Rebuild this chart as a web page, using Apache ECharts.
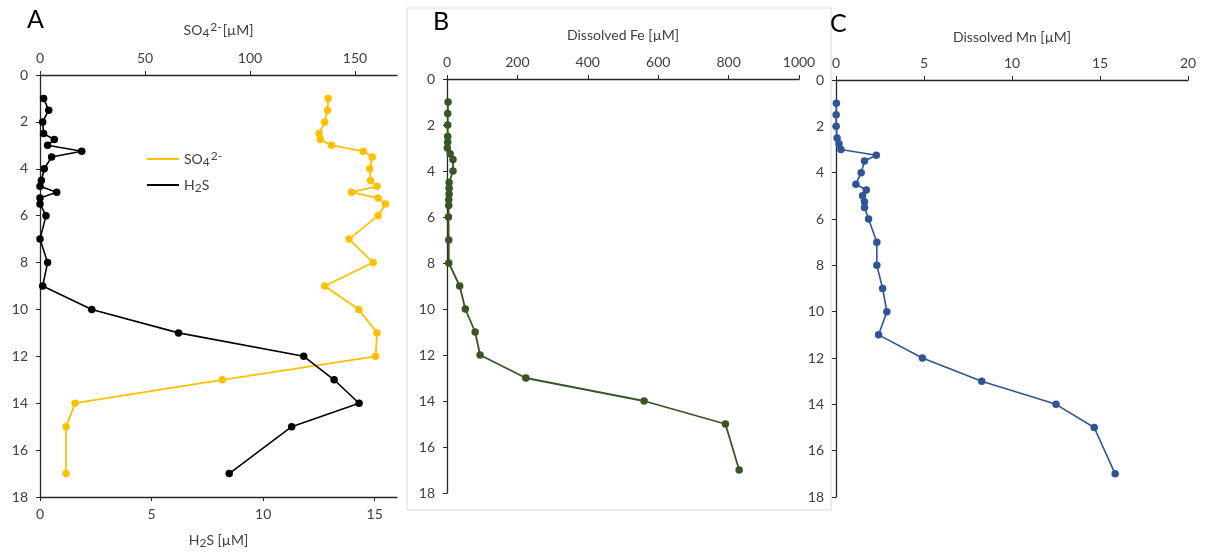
<!DOCTYPE html>
<html>
<head>
<meta charset="utf-8">
<script src="https://cdn.jsdelivr.net/npm/echarts@6/dist/echarts.min.js"></script>
<style>
html,body{margin:0;padding:0;background:#fff;}
#chart{width:1208px;height:557px;}
</style>
</head>
<body>
<div id="chart"></div>
<script>
const depths = [1,1.5,2,2.5,2.75,3,3.25,3.5,4,4.5,4.75,5,5.25,5.5,6,7,8,9,10,11,12,13,14,15,17];
const h2s = [0.16,0.39,0.12,0.16,0.64,0.34,1.87,0.52,0.19,0.06,0,0.75,0,0,0.27,0,0.34,0.12,2.32,6.21,11.82,13.18,14.3,11.28,8.48];
const so4 = [137.2,136.9,135.6,132.9,133.5,138.8,153.9,158.2,157.0,157.4,160.5,148.3,161.0,164.5,161.0,147.2,158.6,135.6,151.8,160.5,159.8,86.8,16.7,12.4,12.4];
const fe = [3,2,2,2,2,1,9,17,17,6,6,6,5,5,4,5,5,36,52,80,94,224,560,791,830];
const mn = [0.02,0.01,0.01,0.06,0.17,0.28,2.29,1.62,1.43,1.13,1.72,1.51,1.62,1.62,1.85,2.32,2.32,2.65,2.89,2.42,4.91,8.28,12.5,14.67,15.86];
const depthTicks = [0,2,4,6,8,10,12,14,16,18];
const so4Ticks = [0,50,100,150];
const h2sTicks = [0,5,10,15];
const feTicks = [0,200,400,600,800,1000];
const mnTicks = [0,5,10,15,20];

const FONT = 'Lato';
const TXT = '#404040';
const AX = '#262626';

function pairs(vals){ return vals.map((v,i)=>[v, depths[i]]); }

const rich = {
  n:{fontFamily:FONT,fontSize:14,color:TXT},
  sub:{fontFamily:FONT,fontSize:12,color:TXT,verticalAlign:'bottom',padding:[6,0,0,0]},
  sup:{fontFamily:FONT,fontSize:12,color:TXT,verticalAlign:'top',padding:[0,1,6,1]}
};

function xAx(grid, pos, min, max, ticks, name, gap){
  return {
    type:'value', gridIndex:grid, position:pos, min:min, max:max,
    name:name, nameLocation:'middle', nameGap:gap,
    nameTextStyle:{fontFamily:FONT,fontSize:14,color:TXT,rich:rich},
    axisLine:{show:true,onZero:false,lineStyle:{color:AX,width:1.3}},
    axisTick:{show:true,length:4,customValues:ticks,lineStyle:{color:AX}},
    axisLabel:{customValues:ticks,margin:10,fontFamily:FONT,fontSize:14,color:TXT,
      formatter:function(v){ return String(v); }},
    splitLine:{show:false}
  };
}
function yAx(grid){
  return {
    type:'value', gridIndex:grid, inverse:true, min:0, max:18, interval:2,
    axisLine:{show:true,onZero:false,lineStyle:{color:AX,width:1.3}},
    axisTick:{show:true,length:4,lineStyle:{color:AX}},
    axisLabel:{margin:12,fontFamily:FONT,fontSize:14,color:TXT},
    splitLine:{show:false}
  };
}
function ser(name, xi, yi, vals, color, w){
  return {
    name:name, type:'line', xAxisIndex:xi, yAxisIndex:yi, data:pairs(vals),
    symbol:'circle', symbolSize:7.5, showSymbol:true,
    lineStyle:{color:color,width:w}, itemStyle:{color:color},
    emphasis:{disabled:true}, animation:false
  };
}

const chart = echarts.init(document.getElementById('chart'), null, {renderer:'canvas'});
chart.setOption({
  animation:false,
  backgroundColor:'#fff',
  grid:[
    {left:40, top:75, width:357, height:422, containLabel:false, outerBoundsMode:'none'},
    {left:447, top:79, width:352, height:414, containLabel:false, outerBoundsMode:'none'},
    {left:836, top:80, width:352, height:417, containLabel:false, outerBoundsMode:'none'}
  ],
  xAxis:[
    xAx(0,'top',0,170,so4Ticks,'{n|SO}{sub|4}{sup|2-}{n|[µM]}',36),
    xAx(0,'bottom',0,16,h2sTicks,'{n|H}{sub|2}{n|S [µM]}',34),
    xAx(1,'top',0,1000,feTicks,'Dissolved Fe [µM]',37),
    xAx(2,'top',0,20,mnTicks,'Dissolved Mn [µM]',36)
  ],
  yAxis:[yAx(0),yAx(1),yAx(2)],
  legend:{
    left:142, top:145, orient:'vertical', itemGap:10, itemWidth:32, itemHeight:2,
    icon:'rect',
    data:[{name:'SO4'},{name:'H2S'}],
    formatter:function(n){ return n==='SO4' ? '{n|SO}{sub|4}{sup|2-}' : '{n|H}{sub|2}{n|S}'; },
    textStyle:{fontFamily:FONT,fontSize:14,color:TXT,rich:rich}
  },
  graphic:[
    {type:'rect', shape:{x:407,y:8,width:424,height:502}, style:{fill:'none',stroke:'#d9d9d9',lineWidth:1}, silent:true},
    {type:'text', left:27, top:7, style:{text:'A',font:'25px Lato',fill:'#000'}},
    {type:'text', left:433, top:9, style:{text:'B',font:'25px Lato',fill:'#000'}},
    {type:'text', left:830, top:11, style:{text:'C',font:'25px Lato',fill:'#000'}}
  ],
  series:[
    ser('SO4',0,0,so4,'#FFC000',1.8),
    ser('H2S',1,0,h2s,'#000000',1.6),
    ser('Fe',2,1,fe,'#375623',1.8),
    ser('Mn',3,2,mn,'#2F5597',1.6)
  ]
});
</script>
</body>
</html>
